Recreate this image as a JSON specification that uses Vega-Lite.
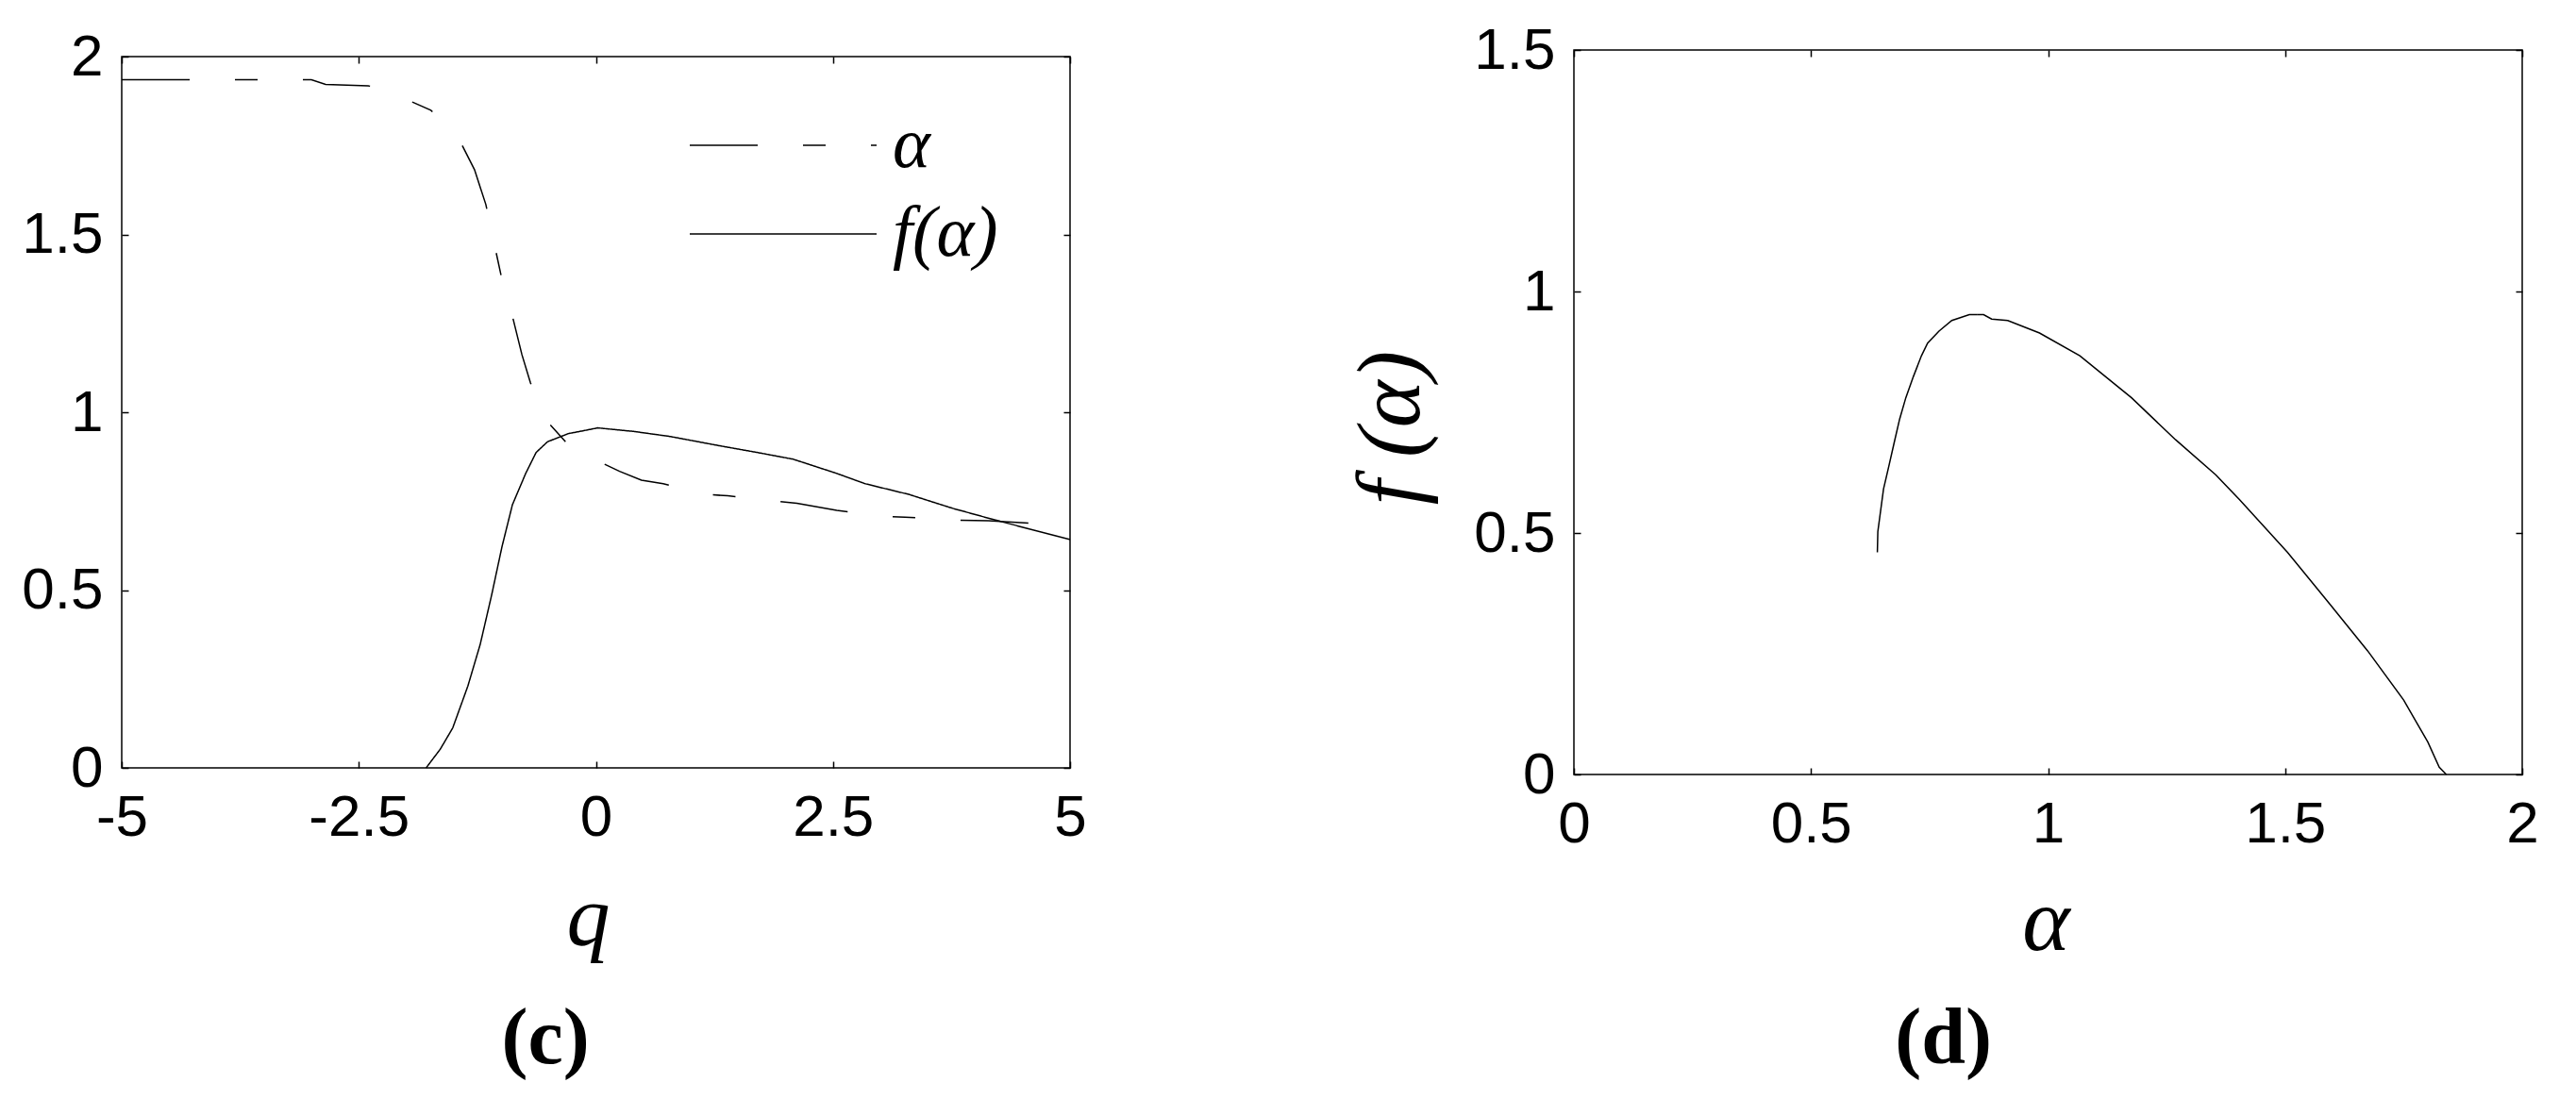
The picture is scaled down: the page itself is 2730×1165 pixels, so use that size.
{
  "$schema": "https://vega.github.io/schema/vega-lite/v6.json",
  "background": "white",
  "padding": {"left": 22, "top": 21, "right": 0, "bottom": 0},
  "datasets": {
    "alphaQ": [
      {"q": -5, "v": 1.935, "s": "α"},
      {"q": -4, "v": 1.935, "s": "α"},
      {"q": -3, "v": 1.935, "s": "α"},
      {"q": -2.85, "v": 1.922, "s": "α"},
      {"q": -2.4, "v": 1.918, "s": "α"},
      {"q": -2.2, "v": 1.905, "s": "α"},
      {"q": -2.0, "v": 1.88, "s": "α"},
      {"q": -1.74, "v": 1.849, "s": "α"},
      {"q": -1.55, "v": 1.8, "s": "α"},
      {"q": -1.43, "v": 1.761, "s": "α"},
      {"q": -1.28, "v": 1.682, "s": "α"},
      {"q": -1.16, "v": 1.584, "s": "α"},
      {"q": -1.05, "v": 1.447, "s": "α"},
      {"q": -0.97, "v": 1.348, "s": "α"},
      {"q": -0.88, "v": 1.27, "s": "α"},
      {"q": -0.78, "v": 1.162, "s": "α"},
      {"q": -0.69, "v": 1.083, "s": "α"},
      {"q": -0.6, "v": 1.02, "s": "α"},
      {"q": -0.515, "v": 0.975, "s": "α"},
      {"q": -0.32, "v": 0.917, "s": "α"},
      {"q": -0.15, "v": 0.885, "s": "α"},
      {"q": 0.06, "v": 0.858, "s": "α"},
      {"q": 0.25, "v": 0.834, "s": "α"},
      {"q": 0.48, "v": 0.809, "s": "α"},
      {"q": 0.71, "v": 0.799, "s": "α"},
      {"q": 1.16, "v": 0.769, "s": "α"},
      {"q": 1.39, "v": 0.765, "s": "α"},
      {"q": 1.89, "v": 0.75, "s": "α"},
      {"q": 2.12, "v": 0.744, "s": "α"},
      {"q": 2.54, "v": 0.724, "s": "α"},
      {"q": 3.07, "v": 0.707, "s": "α"},
      {"q": 3.26, "v": 0.705, "s": "α"},
      {"q": 3.76, "v": 0.697, "s": "α"},
      {"q": 4.14, "v": 0.695, "s": "α"},
      {"q": 4.6, "v": 0.688, "s": "α"},
      {"q": 5, "v": 0.683, "s": "α"}
    ],
    "fQ": [
      {"q": -1.79, "v": 0.0, "s": "f(α)"},
      {"q": -1.64, "v": 0.053, "s": "f(α)"},
      {"q": -1.51, "v": 0.112, "s": "f(α)"},
      {"q": -1.35, "v": 0.23, "s": "f(α)"},
      {"q": -1.22, "v": 0.347, "s": "f(α)"},
      {"q": -1.1, "v": 0.485, "s": "f(α)"},
      {"q": -0.99, "v": 0.622, "s": "f(α)"},
      {"q": -0.88, "v": 0.74, "s": "f(α)"},
      {"q": -0.74, "v": 0.828, "s": "f(α)"},
      {"q": -0.63, "v": 0.887, "s": "f(α)"},
      {"q": -0.51, "v": 0.917, "s": "f(α)"},
      {"q": -0.29, "v": 0.94, "s": "f(α)"},
      {"q": -0.17, "v": 0.946, "s": "f(α)"},
      {"q": 0.02, "v": 0.956, "s": "f(α)"},
      {"q": 0.17, "v": 0.952, "s": "f(α)"},
      {"q": 0.4, "v": 0.946, "s": "f(α)"},
      {"q": 0.78, "v": 0.932, "s": "f(α)"},
      {"q": 1.32, "v": 0.905, "s": "f(α)"},
      {"q": 1.7, "v": 0.887, "s": "f(α)"},
      {"q": 2.08, "v": 0.868, "s": "f(α)"},
      {"q": 2.54, "v": 0.828, "s": "f(α)"},
      {"q": 2.84, "v": 0.799, "s": "f(α)"},
      {"q": 3.3, "v": 0.769, "s": "f(α)"},
      {"q": 3.76, "v": 0.73, "s": "f(α)"},
      {"q": 4.21, "v": 0.697, "s": "f(α)"},
      {"q": 5, "v": 0.642, "s": "f(α)"}
    ],
    "specL": [
      {"a": 0.64, "f": 0.46},
      {"a": 0.641, "f": 0.503},
      {"a": 0.653, "f": 0.591},
      {"a": 0.665, "f": 0.642},
      {"a": 0.675, "f": 0.685},
      {"a": 0.687, "f": 0.736},
      {"a": 0.7, "f": 0.78},
      {"a": 0.716, "f": 0.824},
      {"a": 0.733, "f": 0.867},
      {"a": 0.746, "f": 0.893},
      {"a": 0.77, "f": 0.918},
      {"a": 0.797, "f": 0.94},
      {"a": 0.834, "f": 0.952},
      {"a": 0.85, "f": 0.952}
    ],
    "specR": [
      {"a": 0.85, "f": 0.952},
      {"a": 0.864, "f": 0.952},
      {"a": 0.881, "f": 0.943},
      {"a": 0.915, "f": 0.94},
      {"a": 0.982, "f": 0.914},
      {"a": 1.067, "f": 0.867},
      {"a": 1.176, "f": 0.78},
      {"a": 1.269, "f": 0.693},
      {"a": 1.354, "f": 0.62},
      {"a": 1.404, "f": 0.569},
      {"a": 1.505, "f": 0.46},
      {"a": 1.59, "f": 0.358},
      {"a": 1.674, "f": 0.256},
      {"a": 1.75, "f": 0.154},
      {"a": 1.801, "f": 0.067},
      {"a": 1.825, "f": 0.015},
      {"a": 1.84, "f": 0.0}
    ]
  },
  "spacing": 534,
  "bounds": "flush",
  "center": true,
  "hconcat": [
    {
      "width": 1005,
      "height": 754,
      "title": {"text": "(c)", "orient": "bottom", "frame": "bounds", "anchor": "middle", "offset": 108, "baseline": "alphabetic", "dx": -9, "font": "Liberation Serif", "fontSize": 84, "fontWeight": "bold", "color": "black"},
      "layer": [
        {
          "data": {"name": "alphaQ"},
          "mark": {"type": "line", "color": "black", "strokeWidth": 1.5},
          "encoding": {
            "x": {"field": "q", "type": "quantitative", "scale": {"domain": [-5, 5], "nice": false, "zero": false},
              "axis": {"orient": "bottom", "values": [-5, -2.5, 0, 2.5, 5], "labelPadding": 29, "labelExpr": "'' + datum.value",
                "title": "q", "titleFont": "Liberation Serif", "titleFontStyle": "italic", "titleFontWeight": "normal", "titleFontSize": 92,
                "titleBaseline": "alphabetic", "titleX": 494, "titleY": 187, "titleColor": "black"}},
            "y": {"field": "v", "type": "quantitative", "scale": {"domain": [0, 2], "nice": false, "zero": false},
              "axis": {"orient": "left", "values": [0, 0.5, 1, 1.5, 2], "labelPadding": 27, "labelExpr": "'' + datum.value", "title": null}},
            "strokeDash": {"field": "s", "type": "nominal",
              "scale": {"domain": ["α", "f(α)"], "range": [[72, 48, 24, 48], [1, 0]]},
              "legend": {"orient": "none", "legendX": 729, "legendY": 63, "title": null, "padding": 0,
                "symbolType": "M-16.5,0H3.3", "symbolSize": 400, "symbolStrokeWidth": 1.5, "symbolStrokeColor": "black",
                "labelFont": "Liberation Serif", "labelFontStyle": "italic", "labelFontSize": 76, "labelColor": "black",
                "labelOffset": 12, "rowPadding": 18, "labelLimit": 0}}
          }
        },
        {
          "data": {"name": "fQ"},
          "mark": {"type": "line", "color": "black", "strokeWidth": 1.5},
          "encoding": {
            "x": {"field": "q", "type": "quantitative", "axis": {"orient": "top", "values": [-5, -2.5, 0, 2.5, 5], "labels": false, "title": null}},
            "y": {"field": "v", "type": "quantitative", "axis": {"orient": "right", "values": [0, 0.5, 1, 1.5, 2], "labels": false, "title": null}},
            "strokeDash": {"field": "s", "type": "nominal"}
          }
        }
      ],
      "resolve": {"axis": {"x": "independent", "y": "independent"}}
    },
    {
      "width": 1005,
      "height": 768,
      "title": {"text": "(d)", "orient": "bottom", "frame": "bounds", "anchor": "middle", "offset": 102, "baseline": "alphabetic", "dx": 1, "font": "Liberation Serif", "fontSize": 84, "fontWeight": "bold", "color": "black"},
      "layer": [
        {
          "data": {"name": "specL"},
          "mark": {"type": "line", "color": "black", "strokeWidth": 1.5},
          "encoding": {
            "x": {"field": "a", "type": "quantitative", "scale": {"domain": [0, 2], "nice": false, "zero": false},
              "axis": {"orient": "bottom", "values": [0, 0.5, 1, 1.5, 2], "labelPadding": 29, "labelExpr": "'' + datum.value",
                "title": "α", "titleFont": "Liberation Serif", "titleFontStyle": "italic", "titleFontWeight": "normal", "titleFontSize": 96,
                "titleBaseline": "alphabetic", "titleX": 500, "titleY": 185, "titleColor": "black"}},
            "y": {"field": "f", "type": "quantitative", "scale": {"domain": [0, 1.5], "nice": false, "zero": false},
              "axis": {"orient": "left", "values": [0, 0.5, 1, 1.5], "labelPadding": 27, "labelExpr": "'' + datum.value",
                "title": "f (α)", "titleFont": "Liberation Serif", "titleFontStyle": "italic", "titleFontWeight": "normal", "titleFontSize": 95,
                "titleBaseline": "alphabetic", "titleAngle": 270, "titleX": -165, "titleY": 400, "titleColor": "black"}}
          }
        },
        {
          "data": {"name": "specR"},
          "mark": {"type": "line", "color": "black", "strokeWidth": 1.5},
          "encoding": {
            "x": {"field": "a", "type": "quantitative", "axis": {"orient": "top", "values": [0, 0.5, 1, 1.5, 2], "labels": false, "title": null}},
            "y": {"field": "f", "type": "quantitative", "axis": {"orient": "right", "values": [0, 0.5, 1, 1.5], "labels": false, "title": null}}
          }
        }
      ],
      "resolve": {"axis": {"x": "independent", "y": "independent"}}
    }
  ],
  "config": {
    "view": {"stroke": "black", "strokeWidth": 1.5},
    "axis": {"grid": false, "domain": false, "ticks": true, "tickColor": "black", "tickSize": -7, "tickWidth": 1.5,
      "labelFont": "Liberation Sans", "labelFontSize": 62, "labelColor": "black", "labelFlush": false, "labelOverlap": false}
  }
}
